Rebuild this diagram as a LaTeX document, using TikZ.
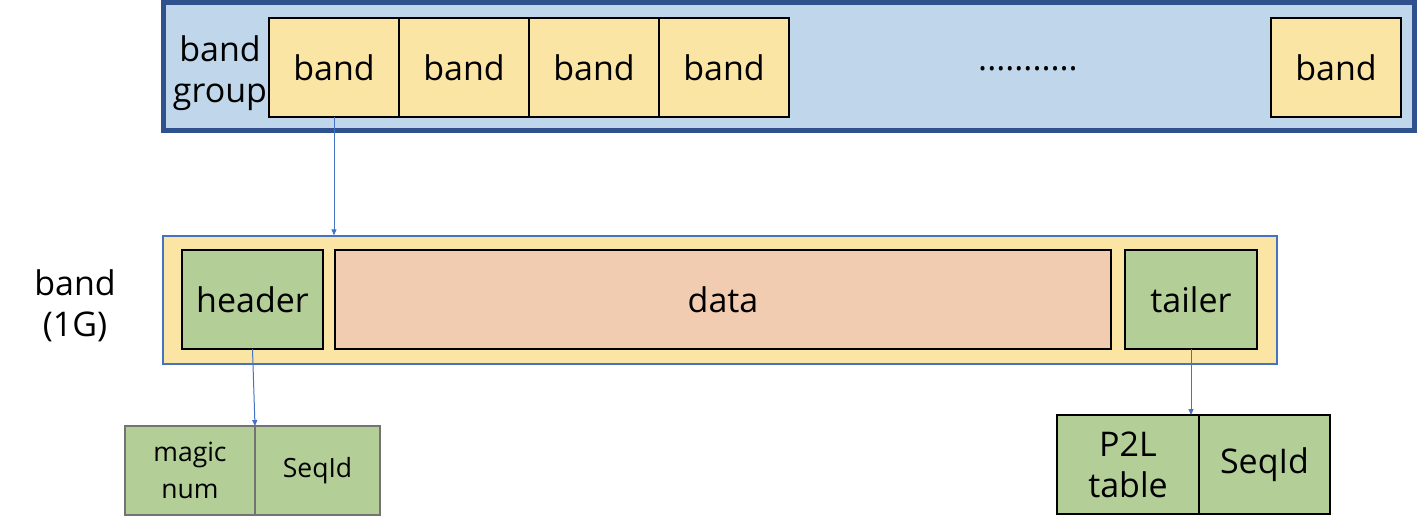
\documentclass[tikz,border=0pt]{standalone}
\usepackage{fontspec}
\setmainfont{Open Sans}
\usetikzlibrary{positioning}
\usetikzlibrary{arrows.meta}

\definecolor{frameblue}{HTML}{2F528F}
\definecolor{groupfill}{HTML}{C0D7EB}
\definecolor{bandfill}{HTML}{FAE5A5}
\definecolor{greenfill}{HTML}{B3CF97}
\definecolor{datafill}{HTML}{F1CCB0}
\definecolor{linkblue}{HTML}{4472C4}

\begin{document}
\begin{tikzpicture}[x=1pt,y=-1pt,
        txt/.style={font=\fontsize{34}{41}\selectfont, align=center, inner sep=0pt},
        small/.style={font=\fontsize{26.5}{37}\selectfont, align=center, inner sep=0pt},
        cell/.style={draw=black, line width=1.2pt, inner sep=0pt, outer sep=0pt, txt},
        bandbox/.style={cell, fill=bandfill, minimum width=130pt, minimum height=99pt},
        partbox/.style={cell, fill=greenfill, minimum height=99pt},
        fieldbox/.style={draw=black!55, line width=1.2pt, fill=greenfill, inner sep=0pt, outer sep=0pt, small, minimum height=89pt},
        link/.style={draw=linkblue, line width=1pt, -{Triangle[length=6pt,width=5pt]}}]%
    \useasboundingbox (0,0) rectangle (1417,530);%
    % band group
    \node[draw=frameblue, line width=5pt, fill=groupfill, minimum width=1251pt, minimum height=128pt] (grp) at (789,66.5) {};%
    \node[txt] (grplbl) at (220,73) {band\\group};%
    \node[bandbox] (b1) at (334,67.5) {band};%
    \node[bandbox, right=0pt of b1] (b2) {band};%
    \node[bandbox, right=0pt of b2] (b3) {band};%
    \node[bandbox, right=0pt of b3] (b4) {band};%
    \node[txt, anchor=base] (dots) at (1028,70) {...........};%
    \node[bandbox] (bn) at (1336,67.5) {band};%
    % one band
    \node[draw=linkblue, line width=1.3pt, fill=bandfill, minimum width=1114pt, minimum height=128pt] (row) at (720,300) {};%
    \node[txt] (rowlbl) at (75,306) {band\\(1G)};%
    \node[partbox, minimum width=141pt] (hdr) at (252.5,299.5) {header};%
    \node[partbox, fill=datafill, minimum width=776pt] (data) at (723,299.5) {data};%
    \node[partbox, minimum width=132pt] (tlr) at (1191,299.5) {tailer};%
    % header fields
    \node[fieldbox, minimum width=130pt] (magic) at (190,470.5) {magic\\num};%
    \node[fieldbox, minimum width=125pt, right=0pt of magic] (seq1) {SeqId};%
    % tailer fields
    \node[partbox, minimum width=142pt] (p2l) at (1128,464.5) {P2L\\table};%
    \node[partbox, minimum width=131pt, right=0pt of p2l] (seq2) {SeqId};%
    % links
    \draw[link] (b1.south) -- (b1.south |- row.north);%
    \draw[link] (hdr.south) -- (magic.north east);%
    \draw[link] (tlr.south) -- (tlr.south |- p2l.north);%
\end{tikzpicture}
\end{document}
